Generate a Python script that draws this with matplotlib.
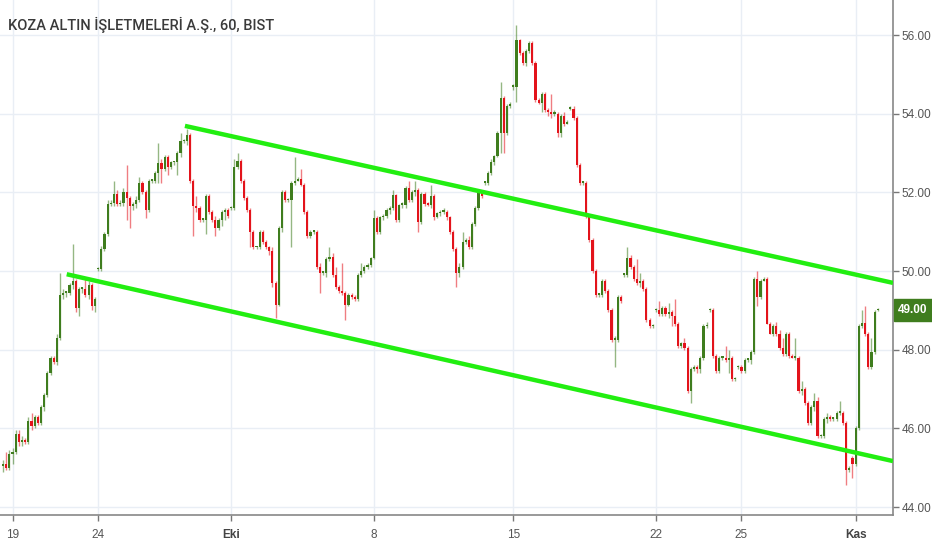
import matplotlib.pyplot as plt
from matplotlib.patches import Rectangle
import numpy as np

title = 'KOZA ALTIN İŞLETMELERİ A.Ş., 60, BIST'

# hourly bars, open / high / low / close
opens = [45.05, 45.10, 45.00, 45.35, 45.40, 45.85, 45.65, 45.70, 45.65, 46.20,
         46.05, 46.30, 46.15, 46.55, 46.85, 47.40, 47.80, 47.70, 48.30, 49.40,
         49.45, 49.45, 49.65, 49.75, 49.05, 49.55, 49.55, 49.40, 49.65, 49.10,
         50.05, 50.05, 50.55, 50.95, 51.70, 51.72, 51.95, 51.70, 51.72, 52.00,
         51.85, 51.65, 51.70, 51.80, 52.25, 52.00, 51.55, 52.30, 52.30, 52.50,
         52.75, 52.60, 52.90, 52.65, 52.77, 52.77, 53.00, 53.30, 53.30, 53.45,
         52.30, 51.65, 51.60, 51.30, 51.30, 51.90, 51.50, 51.30, 51.10, 51.30,
         51.50, 51.55, 51.60, 51.60, 52.65, 52.80, 52.30, 51.85, 51.55, 51.00,
         50.60, 50.60, 51.00, 50.75, 50.60, 50.50, 49.70, 49.13, 51.10, 52.00,
         51.80, 51.80, 52.25, 52.30, 52.35, 52.20, 51.50, 50.90, 51.00, 51.00,
         50.10, 49.95, 49.95, 50.30, 50.35, 49.90, 49.60, 49.50, 49.45, 49.15,
         49.40, 49.35, 49.30, 49.90, 50.00, 50.10, 50.15, 50.33, 51.35, 51.00,
         51.37, 51.40, 51.55, 51.60, 51.93, 51.30, 51.68, 51.68, 52.10, 51.80,
         52.00, 52.05, 51.25, 51.95, 51.70, 51.68, 51.90, 51.37, 51.47, 51.50,
         51.50, 51.37, 51.00, 50.57, 49.95, 50.10, 50.75, 50.78, 50.60, 51.20,
         51.60, 52.00, 52.25, 52.25, 52.50, 52.77, 52.92, 53.50, 54.40, 53.50,
         54.20, 54.68, 54.68, 55.87, 55.55, 55.30, 55.60, 55.80, 55.30, 54.35,
         54.27, 54.50, 54.10, 54.05, 54.00, 54.00, 53.50, 53.95, 53.75, 54.13,
         54.13, 53.90, 52.70, 52.25, 52.25, 51.40, 50.80, 50.00, 49.40, 49.40,
         49.75, 49.50, 49.00, 48.25, 48.25, 49.35, 49.90, 49.90, 50.33, 50.10,
         49.80, 49.70, 49.75, 49.55, 48.75, 48.60, 49.00, 49.00, 48.90, 49.05,
         48.90, 48.95, 48.85, 48.65, 48.10, 48.17, 48.05, 46.95, 47.50, 47.55,
         47.50, 47.80, 48.60, 49.00, 49.00, 47.85, 47.45, 47.80, 47.80, 47.75,
         47.80, 47.25, 47.55, 47.55, 47.45, 47.75, 47.75, 47.95, 49.80, 49.35,
         49.75, 49.80, 48.65, 48.40, 48.60, 48.40, 48.05, 47.90, 48.40, 47.85,
         47.80, 47.80, 46.95, 47.00, 46.65, 46.15, 46.55, 46.70, 45.80, 45.80,
         46.25, 46.30, 46.25, 46.25, 46.40, 46.40, 46.15, 44.95, 45.25, 45.10,
         46.00, 48.60, 48.68, 48.40, 47.55, 47.95, 49.00]
highs = [45.20, 45.40, 45.45, 45.50, 45.95, 45.95, 45.80, 45.75, 46.30, 46.40,
         46.35, 46.35, 46.60, 46.90, 47.45, 47.85, 47.85, 48.40, 49.95, 49.55,
         49.50, 49.70, 50.70, 49.80, 49.60, 49.60, 49.85, 49.75, 49.70, 49.35,
         50.10, 50.65, 51.00, 51.80, 51.80, 52.30, 52.05, 51.80, 52.10, 52.70,
         51.90, 51.75, 51.90, 52.40, 52.30, 52.05, 52.35, 52.35, 52.55, 53.25,
         52.85, 52.95, 52.95, 52.80, 52.80, 53.05, 53.50, 53.35, 53.60, 53.50,
         52.35, 51.90, 51.65, 51.35, 51.95, 51.95, 51.55, 51.40, 51.35, 51.55,
         51.60, 51.60, 51.65, 52.85, 53.00, 52.85, 52.35, 51.90, 51.60, 51.05,
         50.65, 51.05, 51.05, 50.80, 50.65, 50.60, 49.75, 51.15, 52.05, 52.05,
         51.85, 52.30, 52.90, 52.40, 52.60, 52.25, 51.55, 51.05, 51.05, 51.05,
         50.20, 50.00, 50.35, 50.60, 50.45, 50.10, 49.65, 50.20, 49.50, 49.45,
         49.45, 49.40, 49.95, 50.20, 50.15, 50.20, 50.35, 51.55, 51.40, 51.40,
         51.45, 51.60, 51.65, 52.05, 51.95, 51.70, 51.75, 52.15, 52.30, 52.05,
         52.30, 52.10, 52.00, 52.00, 51.75, 52.20, 51.95, 51.50, 51.55, 51.60,
         51.55, 51.40, 51.05, 50.60, 50.20, 51.00, 50.85, 50.90, 51.25, 51.65,
         52.05, 52.05, 52.30, 52.55, 52.85, 52.95, 53.55, 54.80, 54.45, 54.25,
         54.30, 54.75, 56.25, 55.90, 55.60, 55.65, 55.85, 55.85, 55.35, 54.40,
         54.55, 54.55, 54.15, 54.50, 54.10, 54.05, 54.00, 54.05, 53.85, 54.20,
         54.20, 53.95, 52.75, 52.30, 52.30, 51.45, 50.85, 50.05, 49.45, 49.80,
         49.80, 49.55, 49.05, 48.35, 49.40, 49.40, 49.95, 50.60, 50.40, 50.15,
         50.30, 49.95, 49.80, 49.60, 48.80, 48.65, 49.05, 49.25, 49.10, 49.10,
         49.20, 49.00, 49.30, 48.70, 48.20, 48.30, 48.10, 47.55, 47.60, 47.60,
         47.85, 48.65, 48.70, 49.05, 49.05, 47.90, 47.85, 47.85, 48.10, 48.00,
         47.85, 47.30, 47.60, 47.60, 47.80, 47.80, 48.00, 49.85, 50.00, 49.80,
         49.85, 49.85, 48.70, 48.65, 48.70, 48.50, 48.30, 48.45, 48.45, 47.90,
         48.30, 47.85, 47.20, 47.05, 46.70, 46.60, 46.90, 46.80, 45.85, 46.30,
         46.40, 46.35, 46.30, 46.45, 46.70, 46.45, 46.20, 45.05, 45.30, 46.05,
         48.65, 49.00, 49.10, 48.45, 48.30, 49.00, 49.05]
lows = [44.90, 44.95, 44.95, 45.10, 45.35, 45.55, 45.55, 45.60, 45.60, 45.95,
        46.00, 46.10, 46.10, 46.45, 46.80, 47.35, 47.65, 47.60, 48.25, 49.30,
        49.35, 49.40, 49.55, 48.95, 48.85, 49.45, 49.35, 49.30, 49.00, 48.95,
        50.00, 50.00, 50.50, 50.90, 51.65, 51.65, 51.65, 51.65, 51.65, 51.30,
        51.10, 51.55, 51.60, 51.75, 51.95, 51.35, 51.50, 52.25, 52.25, 52.25,
        52.25, 52.55, 52.45, 52.60, 52.70, 52.45, 52.90, 53.25, 53.20, 52.25,
        50.90, 51.50, 51.25, 51.25, 50.95, 51.45, 51.25, 50.90, 51.05, 51.15,
        51.30, 51.35, 51.55, 51.55, 52.60, 52.25, 51.80, 51.50, 50.60, 50.55,
        50.55, 50.55, 50.70, 50.55, 50.40, 49.60, 48.80, 49.10, 51.00, 51.75,
        51.75, 50.60, 52.20, 52.30, 52.15, 51.45, 50.85, 50.85, 50.95, 50.05,
        49.45, 49.90, 49.85, 50.25, 49.85, 49.55, 49.45, 49.40, 48.75, 49.10,
        49.30, 49.25, 49.25, 49.85, 49.95, 50.05, 50.10, 50.30, 50.95, 50.95,
        51.30, 51.35, 51.45, 51.55, 51.25, 51.25, 51.60, 51.60, 51.75, 51.75,
        51.90, 51.00, 51.20, 51.65, 51.65, 51.60, 51.30, 51.35, 51.40, 51.45,
        51.30, 50.95, 50.50, 49.60, 49.85, 50.05, 50.70, 50.55, 50.55, 51.15,
        51.55, 51.85, 52.20, 52.20, 52.45, 52.70, 52.90, 53.00, 53.00, 53.45,
        54.15, 54.60, 54.30, 55.50, 55.25, 55.20, 55.55, 55.25, 54.30, 54.25,
        54.05, 54.05, 53.95, 53.90, 53.95, 53.40, 53.40, 53.70, 53.75, 54.10,
        53.85, 52.65, 52.20, 52.20, 51.35, 50.75, 49.95, 49.35, 49.35, 49.35,
        49.45, 48.95, 48.20, 47.55, 48.20, 49.20, 49.85, 49.85, 50.05, 49.75,
        49.65, 49.60, 49.50, 48.70, 48.55, 48.55, 48.95, 48.85, 48.85, 48.85,
        48.80, 48.60, 48.60, 48.05, 48.05, 48.00, 46.90, 46.65, 47.45, 47.40,
        47.40, 47.75, 48.55, 48.95, 47.80, 47.40, 47.40, 47.75, 47.70, 47.40,
        47.20, 47.20, 47.50, 47.40, 47.40, 47.70, 47.65, 47.90, 49.10, 49.30,
        49.75, 48.65, 48.40, 48.35, 48.35, 48.00, 47.85, 47.85, 47.80, 47.80,
        47.75, 46.90, 46.85, 46.60, 46.10, 46.10, 46.45, 45.75, 45.75, 45.75,
        46.15, 46.20, 46.20, 46.20, 46.35, 46.10, 44.55, 44.90, 44.75, 45.05,
        45.95, 48.55, 48.35, 47.50, 47.50, 47.90, 48.98]
closes = [45.10, 45.00, 45.35, 45.40, 45.85, 45.65, 45.70, 45.65, 46.20, 46.05,
          46.30, 46.15, 46.55, 46.85, 47.40, 47.80, 47.70, 48.30, 49.40, 49.45,
          49.45, 49.65, 49.75, 49.05, 49.55, 49.55, 49.40, 49.65, 49.10, 49.30,
          50.05, 50.55, 50.95, 51.70, 51.72, 51.95, 51.70, 51.72, 52.00, 51.85,
          51.65, 51.70, 51.80, 52.25, 52.00, 51.55, 52.30, 52.30, 52.50, 52.75,
          52.60, 52.90, 52.65, 52.77, 52.77, 53.00, 53.30, 53.30, 53.45, 52.30,
          51.65, 51.60, 51.30, 51.30, 51.90, 51.50, 51.30, 51.10, 51.30, 51.50,
          51.55, 51.40, 51.60, 52.65, 52.80, 52.30, 51.85, 51.55, 51.00, 50.60,
          50.60, 51.00, 50.75, 50.60, 50.50, 49.70, 49.13, 51.10, 52.00, 51.80,
          51.80, 52.25, 52.30, 52.35, 52.20, 51.50, 50.90, 51.00, 51.00, 50.10,
          49.95, 49.95, 50.30, 50.35, 49.90, 49.60, 49.50, 49.45, 49.15, 49.40,
          49.35, 49.30, 49.90, 50.00, 50.10, 50.15, 50.33, 51.35, 51.00, 51.37,
          51.40, 51.55, 51.60, 51.93, 51.30, 51.68, 51.68, 52.10, 51.80, 52.00,
          52.05, 51.25, 51.95, 51.70, 51.68, 51.90, 51.37, 51.47, 51.50, 51.50,
          51.37, 51.00, 50.57, 49.95, 50.10, 50.75, 50.78, 50.60, 51.20, 51.60,
          52.00, 51.90, 52.25, 52.50, 52.77, 52.92, 53.50, 54.40, 53.50, 54.20,
          54.22, 54.68, 55.87, 55.55, 55.30, 55.60, 55.80, 55.30, 54.35, 54.27,
          54.50, 54.10, 54.05, 54.00, 54.00, 53.50, 53.95, 53.75, 53.80, 54.13,
          53.90, 52.70, 52.25, 52.25, 51.40, 50.80, 50.00, 49.40, 49.40, 49.75,
          49.50, 49.00, 48.25, 48.25, 49.35, 49.25, 49.90, 50.33, 50.10, 49.80,
          49.70, 49.75, 49.55, 48.75, 48.60, 48.60, 49.00, 48.90, 49.05, 48.90,
          48.95, 48.85, 48.65, 48.10, 48.17, 48.05, 46.95, 47.50, 47.55, 47.50,
          47.80, 48.60, 48.62, 49.00, 47.85, 47.45, 47.80, 47.80, 47.75, 47.80,
          47.25, 47.25, 47.55, 47.45, 47.75, 47.75, 47.95, 49.80, 49.35, 49.75,
          49.80, 48.65, 48.40, 48.60, 48.40, 48.05, 47.90, 48.40, 47.85, 47.80,
          47.80, 46.95, 47.00, 46.65, 46.15, 46.55, 46.70, 45.80, 45.80, 46.25,
          46.30, 46.25, 46.25, 46.40, 46.40, 46.15, 44.95, 45.00, 45.10, 46.00,
          48.60, 48.68, 48.40, 47.55, 47.95, 48.95, 49.00]

tick_pos = [3, 30, 72, 117, 161, 206, 233, 269]
tick_labels = ['19', '24', 'Eki', '8', '15', '22', '25', 'Kas']

# channel lines (bar index, price)
upper_line = ([57.4, 280.8], [53.69, 49.70])
lower_line = ([20.1, 280.8], [49.92, 45.17])

last_price = 49.00

up_color = '#3f7d1e'
down_color = '#e3131b'
grid_color = '#e9eef5'
text_color = '#555555'
font = ['Liberation Sans', 'DejaVu Sans']

o = np.array(opens)
h = np.array(highs)
l = np.array(lows)
c = np.array(closes)
x = np.arange(len(c))
up = c >= o
colors = np.where(up, up_color, down_color)

fig = plt.figure(figsize=(9.32, 5.5), dpi=100)
ax = fig.add_axes([0, 35 / 550, 893 / 932, 515 / 550])

ax.vlines(x, l, h, colors=colors, lw=1.0, alpha=0.55, zorder=2)
body = np.abs(c - o)
body = np.where(body < 0.04, 0.04, body)
bottom = np.minimum(o, c)
ax.bar(x, body, bottom=bottom, width=0.68, color=colors, linewidth=0, zorder=3)

ax.plot(*upper_line, color='#22ee11', lw=3.2, solid_capstyle='butt', zorder=4)
ax.plot(*lower_line, color='#22ee11', lw=3.2, solid_capstyle='butt', zorder=4)

ax.set_xlim(-0.95, 280.8)
ax.set_ylim(43.80, 56.89)

ax.yaxis.tick_right()
ax.set_yticks(np.arange(44, 57, 2))
ax.set_yticklabels([f'{v:.2f}' for v in np.arange(44, 57, 2)])
ax.set_xticks(tick_pos)
ax.set_xticklabels(tick_labels)
for lab in ax.get_xticklabels() + ax.get_yticklabels():
    lab.set_family(font)
    lab.set_fontsize(8.5)
    lab.set_color(text_color)
for lab in ax.get_xticklabels():
    if lab.get_text() in ('Eki', 'Kas'):
        lab.set_fontweight('bold')
        lab.set_color('#444444')

ax.tick_params(axis='both', length=4, width=1, color='#777777')
ax.tick_params(axis='x', pad=6)
ax.tick_params(axis='y', pad=2)
ax.grid(True, color=grid_color, lw=1.0, zorder=0)
ax.set_axisbelow(True)
for side in ['top', 'left']:
    ax.spines[side].set_visible(False)
for side in ['right', 'bottom']:
    ax.spines[side].set_color('#888888')
    ax.spines[side].set_linewidth(1.2)

# last price marker on the axis
fig.patches.append(Rectangle((894 / 932, (550 - 321) / 550), 38 / 932, 22 / 550,
                             transform=fig.transFigure, color=up_color, zorder=5))
fig.text(913 / 932, (550 - 310) / 550, f'{last_price:.2f}', color='white', fontsize=8.5,
         fontweight='bold', family=font, ha='center', va='center', zorder=6)

fig.text(8 / 932, 1 - 25 / 550, title, fontsize=10.5, color='#3a3a3a',
         family=['Roboto', 'DejaVu Sans'], fontweight='medium', ha='left', va='center')

fig.savefig('out.png', dpi=100)
